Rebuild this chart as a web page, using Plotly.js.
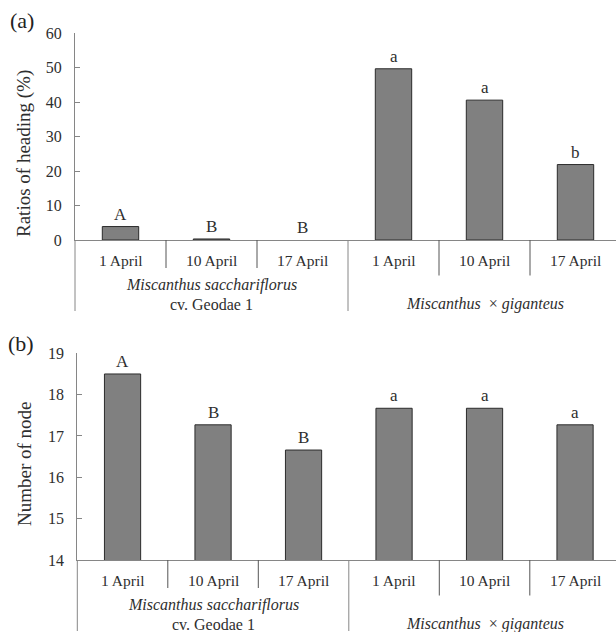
<!DOCTYPE html>
<html>
<head>
<meta charset="utf-8">
<script src="https://cdn.plot.ly/plotly-3.0.1.min.js"></script>
<style>
html,body{margin:0;padding:0;overflow:hidden;background:#fff;}
#chart{width:622px;height:632px;}
</style>
</head>
<body>
<div id="chart"></div>
<script>
// ---- data ----
const dates = ["1 April", "10 April", "17 April"];
const speciesNames = ["<i>Miscanthus sacchariflorus</i>", "<i>Miscanthus</i>\u00a0\u00a0\u00d7 <i>giganteus</i>"];
const cultivarLines = ["cv. Geodae 1", ""];
const headingMS = [3.9, 0.3, 0];
const headingMG = [49.7, 40.6, 21.9];
const headingLetters = ["A", "B", "B", "a", "a", "b"];
const nodeMS = [18.5, 17.27, 16.66];
const nodeMG = [17.67, 17.67, 17.27];
const nodeLetters = ["A", "B", "B", "a", "a", "a"];
const headingTicks = [0, 10, 20, 30, 40, 50, 60];
const nodeTicks = [14, 15, 16, 17, 18, 19];
const panelLabels = ["(a)", "(b)"];
const axisTitles = ["Ratios of heading (%)", "Number of node"];

// ---- build ----
const W = 622, H = 632;
const FONT = "'Liberation Serif', 'Times New Roman', serif";
const TXT = "#2e2e2e";
const AX = "#868686";
const DIV = "#555555";

const nCat = dates.length * speciesNames.length;
const xIdx = [];
for (let i = 0; i < nCat; i++) xIdx.push(i);
const allDates = dates.concat(dates);
const headingVals = headingMS.concat(headingMG);
const nodeVals = nodeMS.concat(nodeMG);

function barStyle(vals, base) {
  return {color: "#808080", line: {color: "#2b2b2b", width: vals.map(v => v === base ? 0 : 1)}};
}

const traces = [
  {type: "bar", x: xIdx, y: headingVals, xaxis: "x", yaxis: "y", width: 0.4, marker: barStyle(headingVals, 0), hoverinfo: "y"},
  {type: "bar", x: xIdx, y: nodeVals, xaxis: "x2", yaxis: "y2", width: 0.4, marker: barStyle(nodeVals, 0), hoverinfo: "y"}
];

const shapes = [];
const annotations = [];

function panel(xa, ya, letters, vals, panelLabel, title, titleY, labelPos) {
  const xd = xa + " domain", yd = ya + " domain";
  for (let k = 0; k <= nCat; k++) {
    let len;
    if (k % dates.length === 0) len = 71;
    else if (k < dates.length) len = 28;
    else len = 35.5;
    shapes.push({type: "line", xref: xd, yref: yd, x0: k / nCat, x1: k / nCat,
      ysizemode: "pixel", yanchor: 0, y0: 0, y1: -len,
      line: {color: (k % dates.length === 0) ? AX : DIV, width: 1}});
  }
  allDates.forEach((d, i) => {
    annotations.push({xref: xa, yref: yd, x: i, y: 0, yshift: -20, text: d, showarrow: false,
      yanchor: "middle", xanchor: "center", font: {family: FONT, size: 15.5, color: TXT}});
  });
  speciesNames.forEach((s, g) => {
    const cx = g * dates.length + (dates.length - 1) / 2;
    if (cultivarLines[g]) {
      annotations.push({xref: xa, yref: yd, x: cx, y: 0, yshift: -45, text: s, showarrow: false,
        yanchor: "middle", font: {family: FONT, size: 16, color: TXT}});
      annotations.push({xref: xa, yref: yd, x: cx, y: 0, yshift: -64, text: cultivarLines[g], showarrow: false,
        yanchor: "middle", font: {family: FONT, size: 16, color: TXT}});
    } else {
      annotations.push({xref: xa, yref: yd, x: cx, y: 0, yshift: -64, text: s, showarrow: false,
        yanchor: "middle", font: {family: FONT, size: 16, color: TXT}});
    }
  });
  letters.forEach((l, i) => {
    annotations.push({xref: xa, yref: ya, x: i, y: vals[i], yshift: 1, text: l, showarrow: false,
      yanchor: "bottom", font: {family: FONT, size: 17, color: TXT}});
  });
  annotations.push({xref: "paper", yref: "paper", x: labelPos[0] / W, y: 1 - labelPos[1] / H, text: panelLabel,
    showarrow: false, xanchor: "center", yanchor: "middle", font: {family: FONT, size: 22, color: "#222"}});
  annotations.push({xref: "paper", yref: "paper", x: 24 / W, y: 1 - titleY / H, text: title, textangle: -90,
    showarrow: false, xanchor: "center", yanchor: "middle", font: {family: FONT, size: 19, color: TXT}});
}

panel("x", "y", headingLetters, headingVals, panelLabels[0], axisTitles[0], 154, [21.5, 21]);
panel("x2", "y2", nodeLetters, nodeVals, panelLabels[1], axisTitles[1], 464, [21, 343]);

const xCommon = {type: "linear", range: [-0.5, nCat - 0.5], showgrid: false, zeroline: false,
  showticklabels: false, ticks: "", showline: true, linecolor: AX, linewidth: 1, fixedrange: true};
const yCommon = {showgrid: false, zeroline: false, showline: true, linecolor: AX, linewidth: 1,
  ticks: "inside", ticklen: 5, tickcolor: AX, tickwidth: 1, ticklabelstandoff: 9,
  tickfont: {family: FONT, size: 16, color: TXT}, fixedrange: true};

const layout = {
  width: W, height: H,
  margin: {l: 0, r: 0, t: 0, b: 0},
  paper_bgcolor: "#fff", plot_bgcolor: "#fff",
  showlegend: false,
  xaxis: Object.assign({}, xCommon, {domain: [75 / W, 621 / W], anchor: "y"}),
  yaxis: Object.assign({}, yCommon, {domain: [1 - 240 / H, 1 - 33.3 / H], range: [0, 60],
    tickvals: headingTicks, anchor: "x"}),
  xaxis2: Object.assign({}, xCommon, {domain: [77.3 / W, 620.3 / W], anchor: "y2"}),
  yaxis2: Object.assign({}, yCommon, {domain: [1 - 560 / H, 1 - 353.3 / H], range: [14, 19],
    tickvals: nodeTicks, anchor: "x2"}),
  shapes: shapes,
  annotations: annotations
};

Plotly.newPlot("chart", traces, layout, {displayModeBar: false, staticPlot: true});
</script>
</body>
</html>
